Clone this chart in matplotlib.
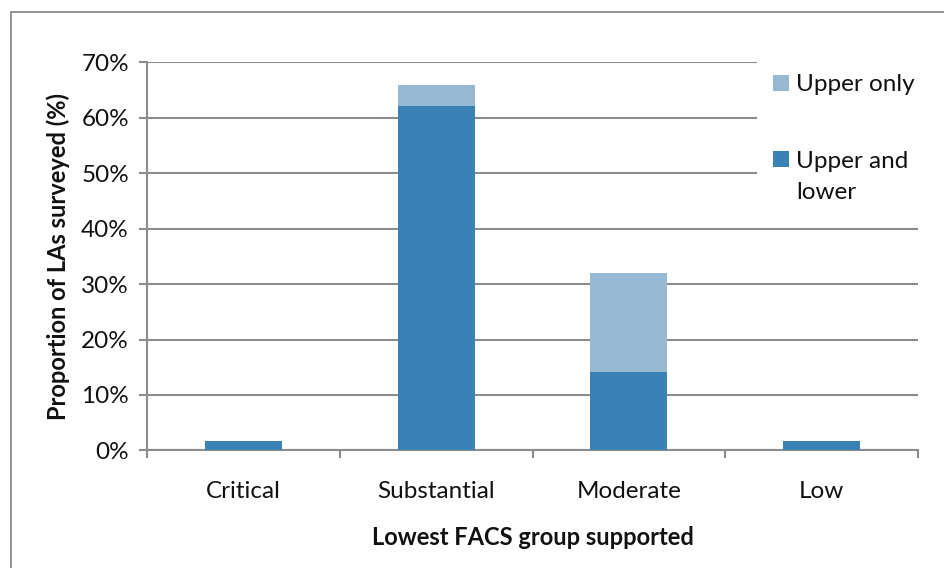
import matplotlib
matplotlib.use("Agg")
import matplotlib.pyplot as plt
from matplotlib.patches import Rectangle
from matplotlib.ticker import FuncFormatter, MultipleLocator

plt.rcParams['font.family'] = ['Lato', 'DejaVu Sans']

categories = ["Critical", "Substantial", "Moderate", "Low"]
upper_and_lower = [1.7, 62.1, 14.1, 1.7]
upper_only = [0.0, 3.8, 17.9, 0.0]
series_labels = ["Upper only", "Upper and\nlower"]

dark = "#3a82b6"
light = "#96bad4"
grid_col = "#8c8c8c"
txt = "#111111"
fs = 17.5

W, H = 944, 568
fig = plt.figure(figsize=(W / 100, H / 100), dpi=100)

def fx(px):
    return px / W

def fy(py):
    return 1 - py / H

# outer chart border
fig.patches.append(Rectangle((fx(11), fy(600)), fx(1000), fy(12) - fy(600),
                             transform=fig.transFigure, fill=False,
                             edgecolor="#8a8a8a", linewidth=1.3, zorder=0))

ax = fig.add_axes([fx(147), fy(450.4), fx(918) - fx(147), fy(62.3) - fy(450.4)])

x = list(range(len(categories)))
ax.bar(x, upper_and_lower, width=0.40, color=dark, zorder=3)
ax.bar(x, upper_only, width=0.40, bottom=upper_and_lower, color=light, zorder=3)

ax.set_xlim(-0.5, len(categories) - 0.5)
ax.set_ylim(0, 70)
ax.yaxis.set_major_locator(MultipleLocator(10))
ax.yaxis.set_major_formatter(FuncFormatter(lambda v, p: f"{v:.0f}%"))
ax.yaxis.grid(True, color=grid_col, linewidth=1.5, zorder=0)
ax.set_axisbelow(True)

ax.set_xticks([i - 0.5 for i in range(len(categories) + 1)])
ax.set_xticklabels([])
ax.set_xticks(x, minor=True)
ax.set_xticklabels(categories, minor=True)
ax.tick_params(axis="x", which="major", length=6, width=1.5, color=grid_col, direction="out")
ax.tick_params(axis="x", which="minor", length=0, pad=22, labelsize=fs, labelcolor=txt)
ax.tick_params(axis="y", length=6, width=1.5, color=grid_col, pad=7, labelsize=fs, labelcolor=txt)

for s in ("top", "right"):
    ax.spines[s].set_visible(False)
for s in ("left", "bottom"):
    ax.spines[s].set_color(grid_col)
    ax.spines[s].set_linewidth(1.5)

ax.set_xlabel("Lowest FACS group supported", fontsize=17, fontweight="bold",
              color=txt, labelpad=17)
ax.set_ylabel("Proportion of LAs surveyed (%)", fontsize=17, fontweight="bold",
              color=txt, labelpad=8)

# legend panel on the right, over the gridlines
fig.patches.append(Rectangle((fx(757), fy(212)), fx(918) - fx(757), fy(58) - fy(212),
                             transform=fig.transFigure, facecolor="white",
                             edgecolor="none", zorder=2))
legend_rows = [(light, series_labels[0], 75, [91]), (dark, series_labels[1], 151, [168, 199])]
for col, lab, top, baselines in legend_rows:
    fig.patches.append(Rectangle((fx(773), fy(top + 16)), fx(16), fy(top) - fy(top + 16),
                                 transform=fig.transFigure, facecolor=col,
                                 edgecolor="none", zorder=3))
    for line, base in zip(lab.split("\n"), baselines):
        fig.text(fx(796), fy(base), line, fontsize=fs, color=txt,
                 va="baseline", ha="left", zorder=4)

fig.savefig("out.png", dpi=100)
